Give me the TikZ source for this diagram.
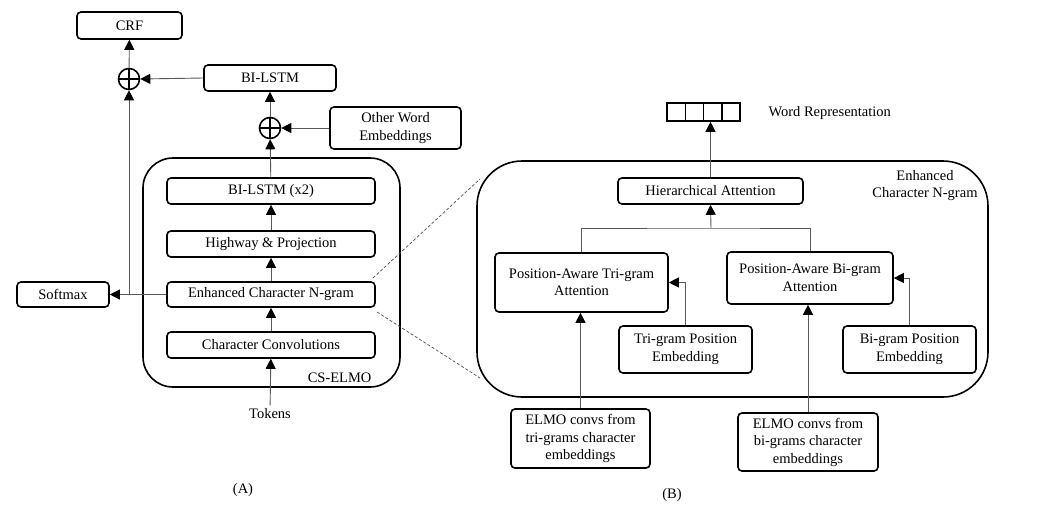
\documentclass[tikz,border=0pt]{standalone}
\usepackage{fontspec}
\setmainfont{Liberation Serif}
\usetikzlibrary{arrows.meta,calc}
\begin{document}
\begin{tikzpicture}[x=1pt,y=-1pt,
  font=\fontsize{14.5}{17.5}\selectfont,
  box/.style={draw=black,line width=1.6pt,rounded corners=4pt,align=center,inner sep=0pt},
  bigbox/.style={draw=black,line width=1.6pt,inner sep=0pt},
  conn/.style={draw=black!65,line width=0.9pt},
  arr/.style={conn,-{Triangle[length=10pt,width=10pt,fill=black,color=black]}},
  oplus/.style={circle,draw=black,line width=1.6pt,minimum size=21pt,inner sep=0pt,
    path picture={\draw[line width=1.4pt] (path picture bounding box.north)--(path picture bounding box.south)
      (path picture bounding box.west)--(path picture bounding box.east);}},
  sq/.style={draw=black,line width=1.6pt,minimum width=18.3pt,minimum height=18pt,inner sep=0pt},
  zoomline/.style={draw=black!70,line width=0.7pt,dash pattern=on 3pt off 2pt}
]
\useasboundingbox (0,0) rectangle (1044,507);

% ---------- Part A ----------
\node[bigbox,rounded corners=30pt,minimum width=257pt,minimum height=229pt] (elmo) at (271.5,272.5) {};
\node[anchor=east] (elmolbl) at (375,378) {CS-ELMO};

\node[box,minimum width=105pt,minimum height=27pt] (crf) at (129.5,25.5) {CRF};
\node[oplus] (op1) at (129,79) {};
\node[box,minimum width=132pt,minimum height=26pt] (bilstm) at (270,78) {BI-LSTM};
\node[oplus] (op2) at (270,128) {};
\node[box,minimum width=131pt,minimum height=42pt] (other) at (395.5,128) {Other Word\\Embeddings};

\node[box,minimum width=208pt,minimum height=26pt] (bil2) at (271,191) {BI-LSTM (x2)};
\node[box,minimum width=208pt,minimum height=26pt] (hwy) at (271,244) {Highway \& Projection};
\node[box,minimum width=208pt,minimum height=25pt] (enh) at (271,294.5) {Enhanced Character N-gram};
\node[box,minimum width=208pt,minimum height=26pt] (conv) at (271,345) {Character Convolutions};
\node (tok) at (270,414) {Tokens};
\node[box,minimum width=92pt,minimum height=25pt] (soft) at (63,294.5) {Softmax};
\node (lblA) at (243,490) {(A)};

\draw[arr] (tok) -- (conv);
\draw[arr] (conv) -- (enh);
\draw[arr] (enh) -- (hwy);
\draw[arr] (hwy) -- (bil2);
\draw[arr] (bil2) -- (op2);
\draw[arr] (other) -- (op2);
\draw[arr] (op2) -- (bilstm);
\draw[arr] (bilstm.west) -- (op1.east);
\draw[arr] (op1) -- (crf);
\draw[arr] (enh.west) -- (soft.east);
\draw[arr] (op1 |- enh.west) -- (op1.south);

% ---------- Part B ----------
\node[bigbox,rounded corners=45pt,minimum width=511pt,minimum height=236pt] (bbox) at (732.5,279) {};
\node[align=center] (bboxlbl) at (925,185.5) {Enhanced\\Character N-gram};

\node[sq] (sq1) at (676.15,112) {};
\node[sq] (sq2) at (694.45,112) {};
\node[sq] (sq3) at (712.75,112) {};
\node[sq] (sq4) at (731.05,112) {};
\node[anchor=west] (wrep) at (765,113) {Word Representation};

\node[box,minimum width=185pt,minimum height=26pt] (hier) at (710.5,191) {Hierarchical Attention};
\node[box,minimum width=173pt,minimum height=59pt] (tri) at (581.5,282.5) {Position-Aware Tri-gram\\Attention};
\node[box,minimum width=166pt,minimum height=52pt] (bi) at (810,278) {Position-Aware Bi-gram\\Attention};
\node[box,minimum width=133pt,minimum height=47pt] (tpe) at (685.5,349.5) {Tri-gram Position\\Embedding};
\node[box,minimum width=133pt,minimum height=47pt] (bpe) at (909.5,349.5) {Bi-gram Position\\Embedding};
\node[box,minimum width=139pt,minimum height=59pt] (etri) at (580.5,438.5) {ELMO convs from\\tri-grams character\\embeddings};
\node[box,minimum width=140pt,minimum height=58pt] (ebi) at (808,442) {ELMO convs from\\bi-grams character\\embeddings};
\node (lblB) at (672,495) {(B)};

\coordinate (jc) at (711,228);
\draw[conn] (tri.north) |- (jc) -| (bi.north);
\draw[arr] (jc) -- (hier.south);
\draw[arr] (hier.north) -- (hier.north |- sq3.south);
\draw[arr] (tpe.north) |- (tri.east);
\draw[arr] (bpe.north) |- (bi.east);
\draw[arr] (etri.north) -- (etri.north |- tri.south);
\draw[arr] (ebi.north) -- (ebi.north |- bi.south);

% zoom lines
\coordinate (z1) at (373,278);
\coordinate (z2) at (480,179);
\coordinate (z3) at (377,312);
\coordinate (z4) at (480,378);
\draw[zoomline] (z1) -- (z2);
\draw[zoomline] (z3) -- (z4);
\end{tikzpicture}
\end{document}
